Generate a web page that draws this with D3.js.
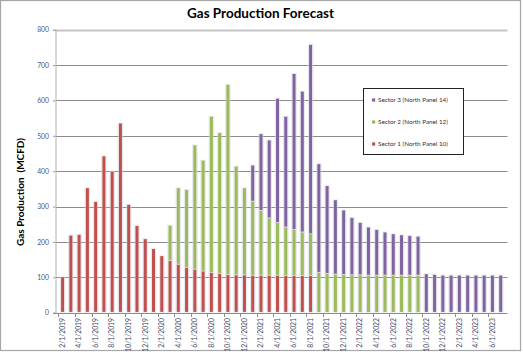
<!DOCTYPE html>
<html>
<head>
<meta charset="utf-8">
<script src="https://cdn.jsdelivr.net/npm/d3@7"></script>
<style>
  body { margin:0; background:#fff; }
  text { font-family: Lato, "Open Sans", sans-serif; }
</style>
</head>
<body>
<div id="main"></div>
<script>
/* Define Size */
const width = 523, height = 354;
const margin = {top: 29.7, right: 15.5, bottom: 41.3, left: 55.8};

/* Define Data */
const months = [
  "2/1/2019","3/1/2019","4/1/2019","5/1/2019","6/1/2019","7/1/2019","8/1/2019","9/1/2019","10/1/2019","11/1/2019","12/1/2019",
  "1/1/2020","2/1/2020","3/1/2020","4/1/2020","5/1/2020","6/1/2020","7/1/2020","8/1/2020","9/1/2020","10/1/2020","11/1/2020","12/1/2020",
  "1/1/2021","2/1/2021","3/1/2021","4/1/2021","5/1/2021","6/1/2021","7/1/2021","8/1/2021","9/1/2021","10/1/2021","11/1/2021","12/1/2021",
  "1/1/2022","2/1/2022","3/1/2022","4/1/2022","5/1/2022","6/1/2022","7/1/2022","8/1/2022","9/1/2022","10/1/2022","11/1/2022","12/1/2022",
  "1/1/2023","2/1/2023","3/1/2023","4/1/2023","5/1/2023","6/1/2023","7/1/2023"
];
const sector1 = [100,218,220,352,313,442,398,535,305,245,208,180,160,147,136,127,122,117,113,110,107,106,106,105,105,105,105,104,104,104,104,
  0,0,0,0,0,0,0,0,0,0,0,0,0,0,0,0,0,0,0,0,0,0,0];
const sector2 = [0,0,0,0,0,0,0,0,0,0,0,0,0,
  99,216,220,351,313,441,398,537,307,246,209,183,162,149,137,130,123,118,113,110,108,107,106,106,105,105,105,105,105,105,105,
  0,0,0,0,0,0,0,0,0,0];
const sector3 = [0,0,0,0,0,0,0,0,0,0,0,0,0,0,0,0,0,0,0,0,0,0,0,
  102,217,220,351,313,441,398,535,307,248,210,182,162,148,136,129,122,117,114,112,110,109,107,105,105,105,105,105,105,105,105];
const seriesNames = ["Sector 1 (North Panel 10)","Sector 2 (North Panel 12)","Sector 3 (North Panel 14)"];
const yTicks = [0,100,200,300,400,500,600,700,800];
const colors = ["#c0504d","#9bbb59","#8064a2"];

const rows = months.map((m,i) => ({month:m, s1:sector1[i], s2:sector2[i], s3:sector3[i]}));
const stacked = d3.stack().keys(["s1","s2","s3"])(rows);

/* Build svg */
const svg = d3.select("#main").append('svg').attr("width",width).attr("height",height);

svg.append('rect')
  .attr('x',0.5).attr('y',0.5).attr('width',520).attr('height',350)
  .attr('fill','#fff').attr('stroke','#a6a6a6').attr('stroke-width',1.2);

const x = d3.scaleBand().domain(months).range([margin.left, width-margin.right]).padding(0.64);
const y = d3.scaleLinear().domain([0,800]).range([height-margin.bottom, margin.top]);

/* Gridlines */
svg.append('g').selectAll('line').data(yTicks.filter(d => d>0)).enter().append('line')
  .attr('x1',margin.left).attr('x2',width-margin.right)
  .attr('y1',d => Math.round(y(d))+0.5).attr('y2',d => Math.round(y(d))+0.5)
  .attr('stroke',d => d==800 ? '#c4c4c4' : '#8c8c8c')
  .attr('stroke-width',d => d==800 ? 2 : 1);

/* y axis */
const yAxis = svg.append('g')
  .attr('transform',`translate(${Math.round(margin.left)-0.5},0)`)
  .call(d3.axisLeft(y).tickValues(yTicks).tickSize(2.5).tickPadding(4));
yAxis.select('.domain').attr('stroke','#b0b0b0');
yAxis.selectAll('.tick line').attr('stroke','#9a9a9a');
yAxis.selectAll('text').style('font-size','6.8px').attr('fill','#4a5a7a').attr('font-family','"Open Sans", sans-serif');

/* Bars - halo then colored */
const step = x.step();
const layer = svg.append('g').selectAll('g').data(stacked).enter().append('g');

layer.selectAll('rect.halo').data(d => d.filter(v => v[1]-v[0] > 0)).enter().append('rect')
  .attr('class','halo')
  .attr('x',d => x(d.data.month)-1.3)
  .attr('width',x.bandwidth()+2.6)
  .attr('y',d => y(d[1])-0.8)
  .attr('height',d => y(d[0])-y(d[1])+0.8)
  .attr('fill','#d6d6de').attr('opacity',0.55);

layer.selectAll('rect.bar').data(d => d.filter(v => v[1]-v[0] > 0)).enter().append('rect')
  .attr('class','bar')
  .attr('x',d => x(d.data.month))
  .attr('width',x.bandwidth())
  .attr('y',d => y(d[1]))
  .attr('height',d => Math.max(0, y(d[0])-y(d[1])-0.8))
  .attr('fill',(d,i,n) => colors[stacked.indexOf(d3.select(n[i].parentNode).datum())]);

/* x axis */
const xAxisY = Math.round(y(0))+0.5;
svg.append('line')
  .attr('x1',margin.left-2).attr('x2',width-margin.right)
  .attr('y1',xAxisY).attr('y2',xAxisY)
  .attr('stroke','#8c8c8c');

const labelled = months.filter((m,i) => i%2==0);
// tick marks sit on the left edge of every second category
svg.append('g').selectAll('line').data(labelled).enter().append('line')
  .attr('x1',d => Math.round(x(d)+x.bandwidth()/2-step/2)+0.5)
  .attr('x2',d => Math.round(x(d)+x.bandwidth()/2-step/2)+0.5)
  .attr('y1',xAxisY).attr('y2',xAxisY+3.5)
  .attr('stroke','#8c8c8c');

svg.append('g').selectAll('text').data(labelled).enter().append('text')
  .attr('transform',d => `translate(${x(d)+x.bandwidth()/2+2.3},${xAxisY+4.5}) rotate(-90)`)
  .attr('text-anchor','end')
  .style('font-size','6.8px')
  .attr('font-family','"Open Sans", sans-serif')
  .attr('fill','#3f4a66')
  .text(d => d);

/* Titles */
svg.append('text')
  .attr('x',260.5).attr('y',18.3)
  .attr('text-anchor','middle')
  .style('font-size','13.5px').style('font-weight','bold')
  .attr('fill','#000')
  .text('Gas Production Forecast');

svg.append('text')
  .attr('transform','translate(23.5,192) rotate(-90)')
  .attr('text-anchor','middle')
  .style('font-size','10px').style('font-weight','bold')
  .attr('fill','#000')
  .attr('xml:space','preserve')
  .text('Gas Production  (MCFD)');

/* Legend */
const lg = svg.append('g');
lg.append('rect')
  .attr('x',363.5).attr('y',88.5).attr('width',100).attr('height',66)
  .attr('fill','#fff').attr('stroke','#222').attr('stroke-width',1);

const items = lg.selectAll('g').data([2,1,0]).enter().append('g')
  .attr('transform',(d,i) => `translate(372,${100+i*22})`);
items.append('rect')
  .attr('x',0).attr('y',-1.6).attr('width',3.2).attr('height',3.2)
  .attr('fill',d => colors[d]);
items.append('text')
  .attr('x',6).attr('y',2.2)
  .style('font-size','6.3px')
  .attr('fill','#333')
  .text(d => seriesNames[d]);
</script>
</body>
</html>
